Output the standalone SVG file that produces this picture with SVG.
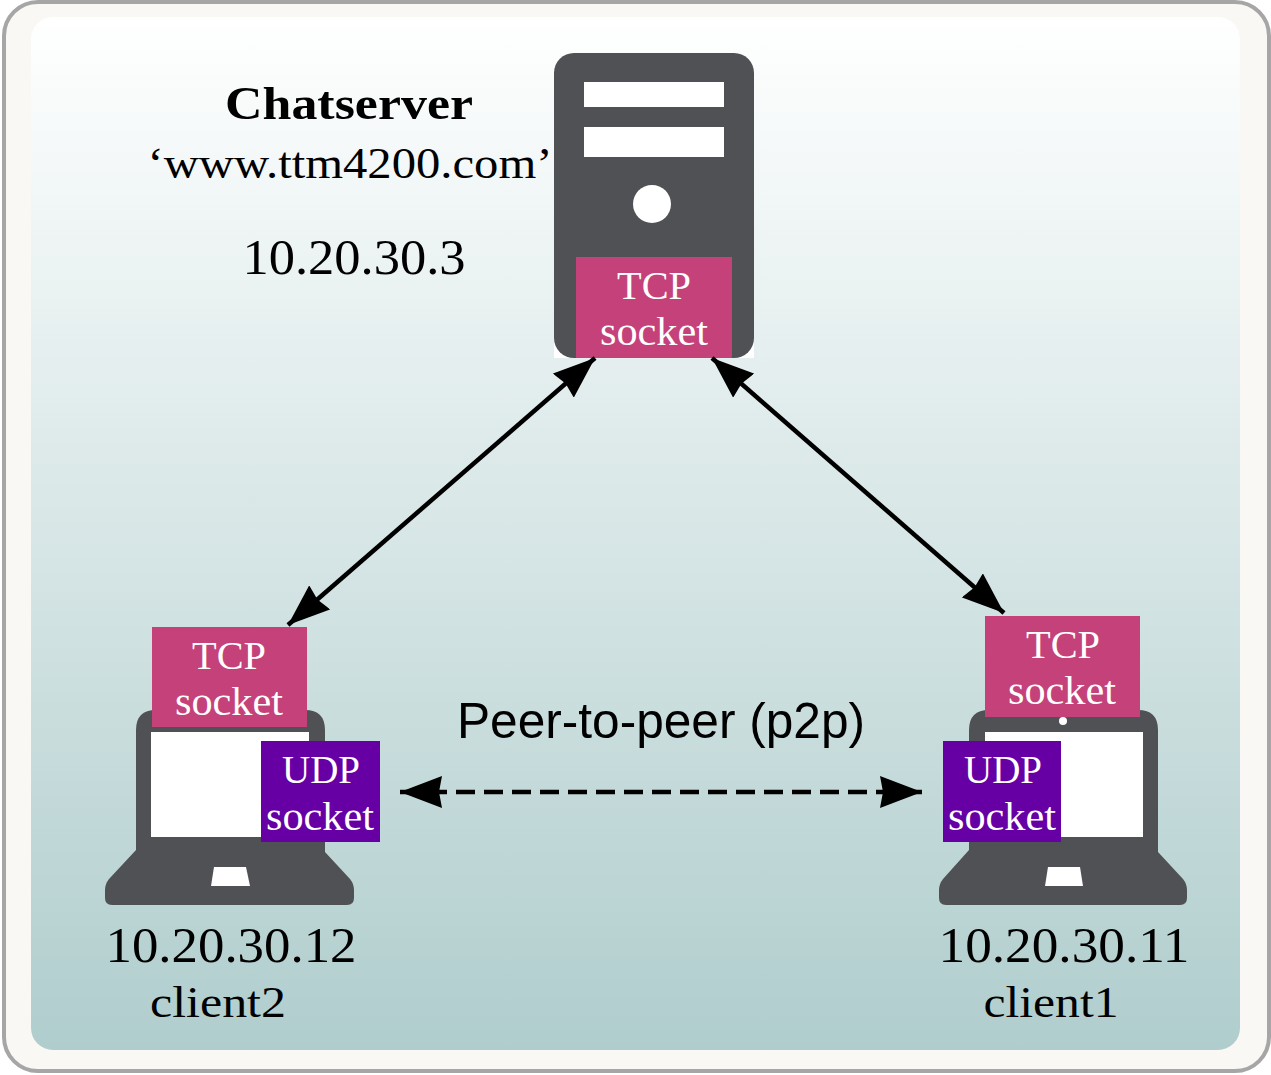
<svg xmlns="http://www.w3.org/2000/svg" width="1271" height="1075" viewBox="0 0 1271 1075">
<defs>
<linearGradient id="bg" x1="0" y1="0" x2="0" y2="1"><stop offset="0" stop-color="#ffffff"/><stop offset="1" stop-color="#b0cdcd"/></linearGradient>
<marker id="ah" viewBox="0 0 42 32" refX="42" refY="16" markerWidth="42" markerHeight="32" markerUnits="userSpaceOnUse" orient="auto-start-reverse"><path d="M0 0L42 16L0 32L3 16Z" fill="#000"/></marker>
</defs>
<style>
text{font-family:"Liberation Serif",serif;text-anchor:middle;fill:#000}
.lbl{font-size:50px}
.sub{font-size:44px}
.sock{font-size:39px;fill:#fff}
.tcp{fill:#c5417a}
.udp{fill:#6600a5}
.dev{fill:#505154}
.w{fill:#fff}
.conn{fill:none;stroke:#000;stroke-width:4.5}
</style>
<rect x="4" y="2" width="1265" height="1069" rx="34" fill="#f9f8f4" stroke="#a6a6a6" stroke-width="4"/>
<rect x="31" y="17" width="1209" height="1033" rx="22" fill="url(#bg)"/>
<g id="labels">
<text x="349" y="119" font-size="47" font-weight="bold" textLength="248" lengthAdjust="spacingAndGlyphs">Chatserver</text>
<text x="350" y="178" class="sub" textLength="405" lengthAdjust="spacingAndGlyphs">‘www.ttm4200.com’</text>
<text x="354" y="274" class="lbl" textLength="223" lengthAdjust="spacingAndGlyphs">10.20.30.3</text>
</g>
<g id="server">
<rect x="554" y="333" width="200" height="25" class="w"/>
<rect x="554" y="53" width="200" height="305" rx="20" class="dev"/>
<rect x="584" y="82" width="140" height="25" class="w"/>
<rect x="584" y="127" width="140" height="30" class="w"/>
<circle cx="652" cy="204" r="19" class="w"/>
<rect x="576" y="257" width="156" height="101" class="tcp"/>
<text x="654" y="299" class="sock" textLength="74" lengthAdjust="spacingAndGlyphs">TCP</text>
<text x="654" y="345" class="sock" textLength="108" lengthAdjust="spacingAndGlyphs">socket</text>
</g>
<g id="client2">
<path class="dev" d="M156 710H305Q325 710 325 730V852L350 879Q354 884 354 890V898Q354 905 347 905H112Q105 905 105 898V890Q105 884 109 879L136 850V730Q136 710 156 710Z"/>
<rect x="151" y="732" width="158" height="105" class="w"/>
<path class="w" d="M214 867H246L250 886H211Z"/>
<rect x="152" y="627" width="155" height="100" class="tcp"/>
<text x="229" y="669" class="sock" textLength="74" lengthAdjust="spacingAndGlyphs">TCP</text>
<text x="229" y="715" class="sock" textLength="108" lengthAdjust="spacingAndGlyphs">socket</text>
<rect x="261" y="741" width="119" height="101" class="udp"/>
<text x="321" y="783" class="sock" textLength="78" lengthAdjust="spacingAndGlyphs">UDP</text>
<text x="320" y="830" class="sock" textLength="108" lengthAdjust="spacingAndGlyphs">socket</text>
<text x="231" y="962" class="lbl" textLength="251" lengthAdjust="spacingAndGlyphs">10.20.30.12</text>
<text x="218" y="1017" class="sub" textLength="136" lengthAdjust="spacingAndGlyphs">client2</text>
</g>
<g id="client1">
<path class="dev" d="M989 710H1138Q1158 710 1158 730V852L1183 879Q1187 884 1187 890V898Q1187 905 1180 905H946Q939 905 939 898V890Q939 884 943 879L969 850V730Q969 710 989 710Z"/>
<rect x="985" y="732" width="158" height="105" class="w"/>
<circle cx="1063" cy="721" r="4" class="w"/>
<path class="w" d="M1048 867H1080L1083 886H1045Z"/>
<rect x="985" y="616" width="155" height="101" class="tcp"/>
<text x="1063" y="658" class="sock" textLength="74" lengthAdjust="spacingAndGlyphs">TCP</text>
<text x="1062" y="704" class="sock" textLength="108" lengthAdjust="spacingAndGlyphs">socket</text>
<rect x="943" y="741" width="118" height="101" class="udp"/>
<text x="1003" y="783" class="sock" textLength="78" lengthAdjust="spacingAndGlyphs">UDP</text>
<text x="1002" y="830" class="sock" textLength="108" lengthAdjust="spacingAndGlyphs">socket</text>
<text x="1064" y="962" class="lbl" textLength="251" lengthAdjust="spacingAndGlyphs">10.20.30.11</text>
<text x="1051" y="1017" class="sub" textLength="135" lengthAdjust="spacingAndGlyphs">client1</text>
</g>
<g id="connectors">
<line class="conn" x1="595" y1="358" x2="288" y2="625" marker-start="url(#ah)" marker-end="url(#ah)"/>
<line class="conn" x1="712" y1="358" x2="1004" y2="613" marker-start="url(#ah)" marker-end="url(#ah)"/>
<line class="conn" x1="400" y1="792" x2="922" y2="792" stroke-dasharray="19 9" marker-start="url(#ah)" marker-end="url(#ah)"/>
</g>
<text x="661" y="738" font-size="50" style="font-family:'Liberation Sans',sans-serif" textLength="408" lengthAdjust="spacingAndGlyphs">Peer-to-peer (p2p)</text>
</svg>
